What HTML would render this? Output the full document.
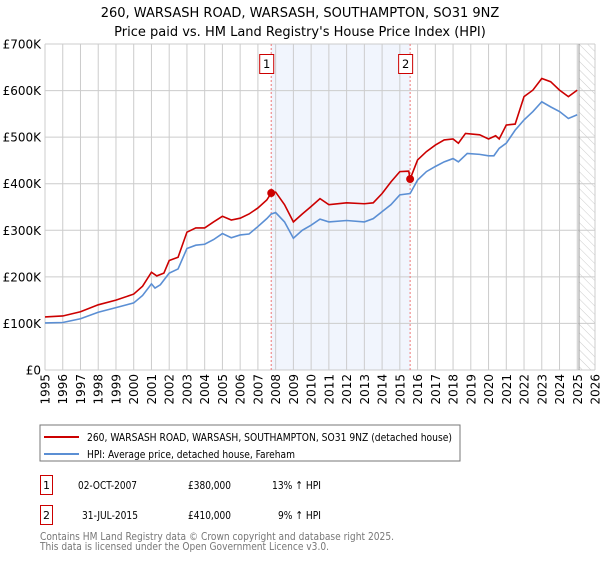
<!DOCTYPE html>
<html><head><meta charset="utf-8"><style>
body{margin:0;background:#fff;font-family:"Liberation Sans","DejaVu Sans",sans-serif;}
svg text{font-family:"DejaVu Sans","Liberation Sans",sans-serif;}
</style></head><body>
<svg id="c" width="600" height="560" xmlns="http://www.w3.org/2000/svg">
<defs><pattern id="hatch" width="6" height="6" patternUnits="userSpaceOnUse" patternTransform="rotate(-45)"><line x1="0" y1="0" x2="0" y2="6" stroke="#ccc" stroke-width="1"/></pattern></defs>
<text x="300" y="17" text-anchor="middle" font-size="13" fill="#000">260, WARSASH ROAD, WARSASH, SOUTHAMPTON, SO31 9NZ</text>
<text x="300" y="36" text-anchor="middle" font-size="13" fill="#000">Price paid vs. HM Land Registry's House Price Index (HPI)</text>
<g id="plot"></g>
<rect x="40" y="425" width="420" height="36" fill="#fff" stroke="#777"/>
<line x1="44" y1="437" x2="79" y2="437" stroke="#cc0000" stroke-width="2"/>
<text x="87" y="441" font-size="11" textLength="365" lengthAdjust="spacingAndGlyphs">260, WARSASH ROAD, WARSASH, SOUTHAMPTON, SO31 9NZ (detached house)</text>
<line x1="44" y1="454" x2="79" y2="454" stroke="#5b8fd4" stroke-width="2"/>
<text x="87" y="458" font-size="11" textLength="208" lengthAdjust="spacingAndGlyphs">HPI: Average price, detached house, Fareham</text>
<g>
<rect x="40.5" y="475.5" width="12" height="19" fill="#fff" stroke="#cc0000"/>
<text x="46.5" y="489" font-size="11" text-anchor="middle">1</text>
<text x="78" y="489" font-size="11" textLength="59" lengthAdjust="spacingAndGlyphs">02-OCT-2007</text>
<text x="188" y="489" font-size="11" textLength="43" lengthAdjust="spacingAndGlyphs">£380,000</text>
<text x="272" y="489" font-size="11" textLength="49" lengthAdjust="spacingAndGlyphs">13% ↑ HPI</text></g>
<g>
<rect x="40.5" y="505.5" width="12" height="19" fill="#fff" stroke="#cc0000"/>
<text x="46.5" y="519" font-size="11" text-anchor="middle">2</text>
<text x="82" y="519" font-size="11" textLength="56" lengthAdjust="spacingAndGlyphs">31-JUL-2015</text>
<text x="188" y="519" font-size="11" textLength="43" lengthAdjust="spacingAndGlyphs">£410,000</text>
<text x="278" y="519" font-size="11" textLength="43" lengthAdjust="spacingAndGlyphs">9% ↑ HPI</text></g>
<text x="40" y="540" font-size="11" fill="#777" textLength="354" lengthAdjust="spacingAndGlyphs">Contains HM Land Registry data © Crown copyright and database right 2025.</text>
<text x="40" y="550" font-size="11" fill="#777" textLength="289" lengthAdjust="spacingAndGlyphs">This data is licensed under the Open Government Licence v3.0.</text>
</svg>
<script>
const yearTicks=[1995,1996,1997,1998,1999,2000,2001,2002,2003,2004,2005,2006,2007,2008,2009,2010,2011,2012,2013,2014,2015,2016,2017,2018,2019,2020,2021,2022,2023,2024,2025,2026];
const valueTicks=[0,100000,200000,300000,400000,500000,600000,700000];
const valueTickLabels=["£0","£100K","£200K","£300K","£400K","£500K","£600K","£700K"];
const hpiYears=[1995,1996,1997,1998,1999,2000,2000.5,2001,2001.2,2001.5,2002,2002.5,2003,2003.5,2004,2004.5,2005,2005.5,2006,2006.5,2007,2007.5,2007.75,2008,2008.5,2009,2009.5,2010,2010.5,2011,2012,2013,2013.5,2014,2014.5,2015,2015.58,2016,2016.5,2017,2017.5,2018,2018.3,2018.8,2019.5,2020,2020.3,2020.6,2021,2021.5,2022,2022.5,2023,2023.5,2024,2024.5,2025];
const hpiValues=[101000,102000,110000,124000,134000,144000,160000,185000,176000,183000,208000,217000,261000,268000,270000,280000,293000,284000,290000,292000,308000,325000,335000,338000,318000,283000,300000,311000,324000,318000,321000,318000,325000,340000,355000,376000,379000,408000,426000,437000,447000,454000,447000,465000,463000,460000,460000,476000,487000,515000,537000,555000,576000,565000,555000,540000,548000];
const priceYears=[1995,1996,1997,1998,1999,2000,2000.5,2001,2001.3,2001.7,2002,2002.5,2003,2003.5,2004,2004.5,2005,2005.5,2006,2006.5,2007,2007.5,2007.75,2008,2008.5,2009,2009.5,2010,2010.5,2011,2012,2013,2013.5,2014,2014.5,2015,2015.5,2015.58,2016,2016.5,2017,2017.5,2018,2018.3,2018.7,2019.5,2020,2020.4,2020.6,2021,2021.5,2022,2022.5,2023,2023.5,2024,2024.5,2025];
const priceValues=[114000,116000,125000,140000,150000,163000,180000,210000,202000,208000,235000,242000,296000,305000,305000,318000,330000,322000,326000,335000,348000,365000,380000,382000,355000,318000,335000,351000,368000,355000,359000,357000,359000,379000,404000,426000,427000,410000,451000,469000,483000,494000,496000,487000,508000,505000,496000,503000,496000,526000,528000,587000,601000,626000,619000,601000,587000,601000];
const saleYears=[2007.75,2015.58];
const saleValues=[380000,410000];
const saleLabels=["1","2"];

const NS="http://www.w3.org/2000/svg";
const X0=45,X1=595,Y0=370,Y1=44;
const xs=y=>X0+(y-1995)/(2026-1995)*(X1-X0);
const ys=v=>Y0-v/700000*(Y0-Y1);
const g=document.getElementById('plot');
function mk(t,a){const e=document.createElementNS(NS,t);for(const k in a)e.setAttribute(k,a[k]);g.appendChild(e);return e;}
let e;
e=mk('rect',{x:xs(saleYears[0]),y:Y1,width:xs(saleYears[1])-xs(saleYears[0]),height:Y0-Y1,fill:'#eef3fd',opacity:0.8});


e=mk('rect',{x:xs(2025.1),y:Y1,width:X1-xs(2025.1),height:Y0-Y1,fill:'url(#hatch)'});


yearTicks.forEach(yr=>{
  e=mk('line',{x1:xs(yr),x2:xs(yr),y1:Y1,y2:Y0,stroke:'#ccc','stroke-width':1});
  
  
  const t=mk('text',{x:0,y:0,'font-size':12,'text-anchor':'end',transform:`translate(${xs(yr)+4.5},374) rotate(-90)`});
  t.textContent=yr;
  
  
});
valueTicks.forEach((v,i)=>{
  e=mk('line',{x1:X0,x2:X1,y1:ys(v),y2:ys(v),stroke:'#ccc','stroke-width':1});
  
  
  const t=mk('text',{x:X0-4,y:ys(v)+4.5,'font-size':12,'text-anchor':'end'});
  t.textContent=valueTickLabels[i];
  
  
});
e=mk('line',{x1:xs(2025.1),x2:xs(2025.1),y1:Y1,y2:Y0,stroke:'#999','stroke-width':1});


saleYears.forEach((yr,i)=>{
  e=mk('line',{x1:xs(yr),x2:xs(yr),y1:Y1,y2:Y0,stroke:'#e77','stroke-width':1,'stroke-dasharray':'2,2'});
  
  
});
e=mk('polyline',{points:hpiYears.map((y,i)=>xs(y)+','+ys(hpiValues[i])).join(' '),fill:'none',stroke:'#5b8fd4','stroke-width':1.6});


e=mk('polyline',{points:priceYears.map((y,i)=>xs(y)+','+ys(priceValues[i])).join(' '),fill:'none',stroke:'#cc0000','stroke-width':1.6});


saleYears.forEach((yr,i)=>{
  e=mk('circle',{cx:xs(yr),cy:ys(saleValues[i]),r:4,fill:'#cc0000'});
  
  
  e=mk('rect',{x:xs(yr)-11.5,y:54.5,width:14,height:19,fill:'#fff',stroke:'#cc0000'});
  
  
  const t=mk('text',{x:xs(yr)-4.5,y:68,'font-size':11.5,'text-anchor':'middle'});
  t.textContent=saleLabels[i];
  
  
});
</script>
</body></html>
